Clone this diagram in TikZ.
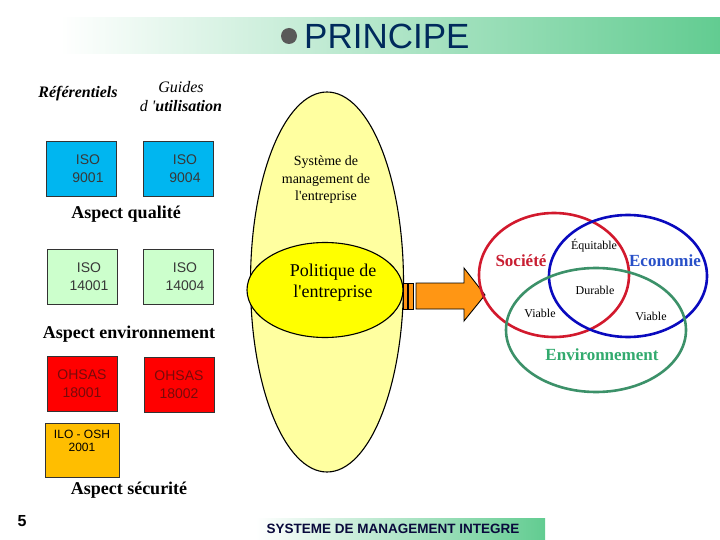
\documentclass[tikz,border=0pt]{standalone}
\usepackage{fontspec}
\setmainfont{Liberation Serif}
\setsansfont{Liberation Sans}
\usepackage{xcolor}
\usepackage{tikz}
\usetikzlibrary{positioning, shapes.geometric}

\definecolor{bandgreen}{RGB}{98,204,145}
\definecolor{bandmid}{RGB}{205,238,216}
\definecolor{titlenavy}{RGB}{0,42,92}
\definecolor{isoblue}{RGB}{0,182,240}
\definecolor{isogreen}{RGB}{204,255,204}
\definecolor{ohsasred}{RGB}{255,0,0}
\definecolor{ohsastext}{RGB}{120,10,10}
\definecolor{iloorange}{RGB}{255,190,0}
\definecolor{smeyellow}{RGB}{255,255,160}
\definecolor{polyellow}{RGB}{255,255,0}
\definecolor{arroworange}{RGB}{255,150,20}
\definecolor{socred}{RGB}{210,25,45}
\definecolor{ecoblue}{RGB}{10,10,190}
\definecolor{envgreen}{RGB}{60,145,105}
\definecolor{socname}{RGB}{200,30,50}
\definecolor{econame}{RGB}{40,80,200}
\definecolor{envname}{RGB}{50,170,110}
\definecolor{footnavy}{RGB}{10,10,60}

\begin{document}
\begin{tikzpicture}[
  x=1pt, y=-1pt,
  stdbox/.style={draw=black!80, minimum width=70pt, minimum height=55pt,
                 inner sep=0pt},
  stdtxt/.style={font=\fontsize{14}{18}\selectfont\sffamily, align=center,
                 text=black!78},
  aspect/.style={font=\fontsize{18}{20}\selectfont\bfseries},
  sysellipse/.style={ellipse, draw, line width=1.1pt, inner sep=0pt},
  venn/.style={line width=2.6pt},
  vennname/.style={font=\fontsize{17}{20}\selectfont\bfseries},
  vennword/.style={font=\fontsize{12}{14}\selectfont}
]
\useasboundingbox (0,0) rectangle (720,540);

% bandeau du titre
\shade[left color=white, middle color=bandmid, right color=bandgreen]
  (60,18) rectangle (720,54);
\node[circle, fill=black!65, minimum size=16pt, inner sep=0pt] (puce) at (289,36) {};
\node[anchor=west, text=titlenavy, font=\fontsize{35}{40}\selectfont\sffamily,
      inner sep=0pt] (titre) at (304,36) {PRINCIPE};

% colonne des normes
\node[font=\fontsize{16}{18}\selectfont\bfseries\itshape] (ref) at (78,94) {Référentiels};
\node[font=\fontsize{16}{19}\selectfont\itshape, align=center] (guides) at (181,97)
  {Guides\\d \textquotesingle\textbf{utilisation}};

\node[stdbox, fill=isoblue, label={[stdtxt, xshift=7pt]center:{ISO\\9001}}]
  (iso9001) at (81,169) {};
\node[stdbox, fill=isoblue, label={[stdtxt, xshift=7pt]center:{ISO\\9004}}]
  (iso9004) at (178,169) {};
\node[aspect] (qual) at (126,214) {Aspect qualité};

\node[stdbox, fill=isogreen, label={[stdtxt, xshift=7pt]center:{ISO\\14001}}]
  (iso14001) at (82,277) {};
\node[stdbox, fill=isogreen, label={[stdtxt, xshift=7pt]center:{ISO\\14004}}]
  (iso14004) at (178,277) {};
\node[aspect] (env) at (129,334) {Aspect environnement};

\node[stdbox, fill=ohsasred, label={[stdtxt, text=ohsastext]center:{OHSAS\\18001}}]
  (ohsas1) at (82,384) {};
\node[stdbox, fill=ohsasred, label={[stdtxt, text=ohsastext]center:{OHSAS\\18002}}]
  (ohsas2) at (179,385) {};
\node[stdbox, fill=iloorange, minimum width=74pt, minimum height=54pt] (ilo) at (82,450) {};
\node[below=7pt of ilo.north, font=\fontsize{12}{13.5}\selectfont\sffamily,
      align=center, inner sep=0pt] (ilotxt) {ILO - OSH\\2001};
\node[aspect] (secu) at (129,490) {Aspect sécurité};

% systeme de management
\node[sysellipse, fill=smeyellow, minimum width=153pt, minimum height=380pt]
  (sme) at (327,282) {};
\node[sysellipse, fill=polyellow, minimum width=156pt, minimum height=95pt]
  (pol) at (325,290) {};
\node[font=\fontsize{14}{17.5}\selectfont, align=center] (smetxt) at (326,180)
  {Système de\\management de\\l\textquotesingle entreprise};
\node[font=\fontsize{18}{21}\selectfont, align=center] (poltxt) at (333,283)
  {Politique de\\l\textquotesingle entreprise};

% fleche vers le developpement durable
\draw[fill=arroworange, line width=0.8pt] (403,283) rectangle (407,309);
\draw[fill=arroworange, line width=0.8pt] (408,283) rectangle (413,309);
\draw[fill=arroworange, line width=0.9pt]
  (416,283) -- (464,283) -- (464,268) -- (485,295) -- (464,321) -- (464,309)
  -- (416,309) -- cycle;

% diagramme des trois spheres
\draw[venn, socred] (554,275) ellipse [x radius=75pt, y radius=62pt];
\draw[venn, ecoblue] (628,276) ellipse [x radius=79pt, y radius=61pt];
\draw[venn, envgreen] (596,330) ellipse [x radius=90pt, y radius=62pt];

\node[vennname, text=socname] (soc) at (521,261) {Société};
\node[vennname, text=econame] (eco) at (665,261) {Economie};
\node[vennname, text=envname] (envi) at (602,355) {Environnement};
\node[vennword] (equi) at (594,246) {Équitable};
\node[vennword] (dura) at (595,290) {Durable};
\node[vennword] (via1) at (540,313) {Viable};
\node[vennword] (via2) at (651,316) {Viable};

% pied de page
\shade[left color=white, right color=bandgreen] (256,518) rectangle (545,540);
\node[font=\fontsize{13.5}{15}\selectfont\sffamily\bfseries, text=footnavy]
  (pied) at (393,529) {SYSTEME DE MANAGEMENT INTEGRE};
\node[font=\fontsize{16}{18}\selectfont\sffamily\bfseries] (num) at (22,521) {5};
\end{tikzpicture}
\end{document}
